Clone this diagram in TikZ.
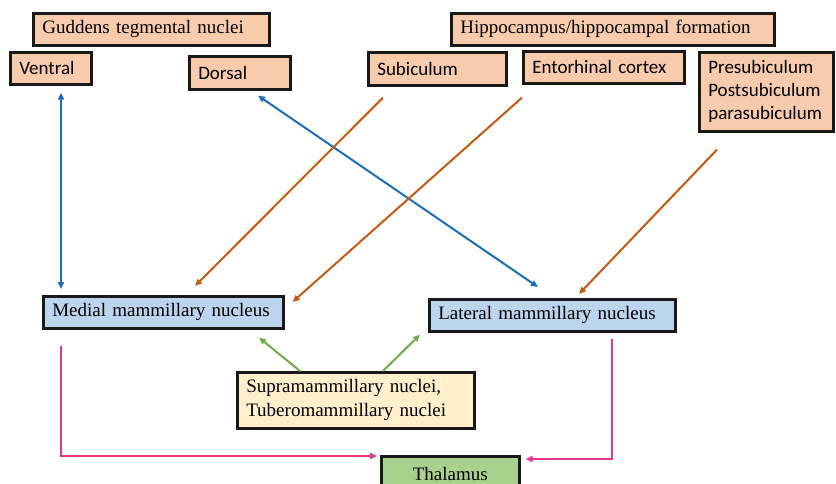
\documentclass[tikz,border=0pt]{standalone}
\usepackage{fontspec}
\setmainfont{Liberation Serif}
\newfontfamily\carlitofont{Carlito}
\usetikzlibrary{arrows.meta,calc}
\definecolor{peach}{HTML}{F8CBAD}
\definecolor{lblue}{HTML}{BDD4EE}
\definecolor{cream}{HTML}{FFEFCB}
\definecolor{lgreen}{HTML}{A9D18E}
\definecolor{arblue}{HTML}{1A6FB8}
\definecolor{arorange}{HTML}{C55A11}
\definecolor{argreen}{HTML}{70AD47}
\definecolor{arpink}{HTML}{E6398C}
\begin{document}
\begin{tikzpicture}[x=1pt,y=1pt,
  box/.style={draw=black!90, line width=2.6pt, inner xsep=9pt, inner ysep=0pt,
    anchor=north west, align=left},
  serifbox/.style={box, font=\fontsize{19}{24}\selectfont\rmfamily},
  sansbox/.style={box, font=\fontsize{19}{23}\selectfont\carlitofont},
  tip/.style={line width=2pt, arrows={-Triangle[length=7pt,width=6pt]}},
  dtip/.style={line width=2pt, arrows={Triangle[length=7pt,width=6pt]-Triangle[length=7pt,width=6pt]}}]
\clip (0,0) rectangle (836,-484);
\fill[white] (0,0) rectangle (836,-484);
% top boxes
\node[serifbox, fill=peach, text width=218pt, minimum height=32pt] (gud) at (32,-12) {\mbox{Guddens tegmental nuclei}};
\node[serifbox, fill=peach, text width=305pt, minimum height=32pt] (hip) at (450,-12) {\mbox{Hippocampus/hippocampal formation}};
\node[sansbox, fill=peach, text width=63pt, minimum height=32pt] (ven) at (9,-51) {\mbox{Ventral}};
\node[sansbox, fill=peach, text width=83pt, minimum height=33pt] (dor) at (188,-55) {\mbox{Dorsal}};
\node[sansbox, fill=peach, text width=120pt, minimum height=33pt] (sub) at (367,-51) {\mbox{Subiculum}};
\node[sansbox, fill=peach, text width=143pt, minimum height=32pt] (ent) at (522,-50) {\mbox{Entorhinal cortex}};
\node[sansbox, fill=peach, text width=116pt, minimum height=79pt] (pre) at (698,-51) {Presubiculum\\Postsubiculum\\parasubiculum};
% middle boxes
\node[serifbox, fill=lblue, text width=222pt, minimum height=32pt] (med) at (42,-295) {\mbox{Medial mammillary nucleus}};
\node[serifbox, fill=lblue, text width=228pt, minimum height=32pt] (lat) at (428,-298) {\mbox{Lateral mammillary nucleus}};
\node[serifbox, fill=cream, text width=219pt, minimum height=56pt] (sup) at (236,-371) {\mbox{Supramammillary nuclei,}\\\mbox{Tuberomammillary nuclei}};
\node[serifbox, fill=lgreen, text width=120pt, minimum height=36pt, align=center] (tha) at (380,-455) {Thalamus};
% connectors
\draw[dtip, arblue] ($(ven.south west)+(52,-7)$) -- ($(med.north west)+(19,6)$);
\draw[dtip, arblue] ($(dor.south west)+(70,-5)$) -- ($(lat.north west)+(110,11)$);
\draw[tip, arorange] ($(sub.south west)+(16,-11)$) -- ($(med.north west)+(153,9)$);
\draw[tip, arorange] ($(ent.south west)+(0,-13)$) -- ($(med.north east)+(8,-7)$);
\draw[tip, arorange] ($(pre.south west)+(19,-17)$) -- ($(lat.north west)+(151,4)$);
\draw[tip, argreen] ($(sup.north west)+(64,0)$) -- ($(med.south west)+(217,-8)$);
\draw[tip, argreen] ($(sup.north west)+(147,0)$) -- ($(lat.south west)+(-8,-2)$);
\draw[tip, arpink] ($(med.south west)+(19,-16)$) |- ($(tha.north west)+(-3,-1)$);
\draw[tip, arpink] ($(lat.south west)+(184,-6)$) |- ($(tha.north east)+(5,-4)$);
\end{tikzpicture}
\end{document}
